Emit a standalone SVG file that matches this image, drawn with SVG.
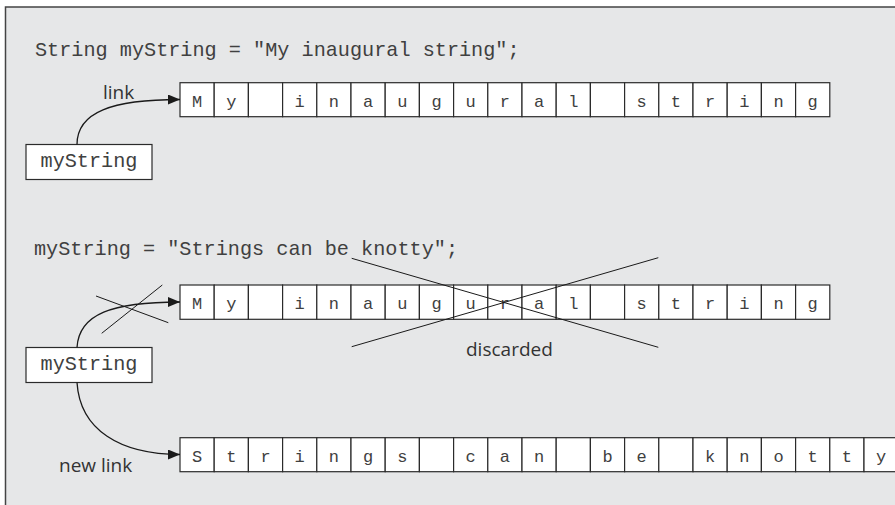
<svg xmlns="http://www.w3.org/2000/svg" width="895" height="505" viewBox="0 0 895 505">
<defs>
<style>
.code{font-family:"Liberation Mono","Courier New",monospace;font-size:20.2px;fill:#404040}
.cell{fill:#fff;stroke:#2b2b2b;stroke-width:1.2}
.ch{font-family:"Liberation Mono","Courier New",monospace;font-size:17px;fill:#404040;text-anchor:middle}
.lbl{font-family:"Open Sans","Liberation Sans",sans-serif;font-size:19px;fill:#333}
.box{fill:#fff;stroke:#2b2b2b;stroke-width:1.2}
.conn{fill:none;stroke:#1a1a1a;stroke-width:1.3}
.cross{fill:none;stroke:#1a1a1a;stroke-width:1}
</style>
<marker id="ah" markerWidth="12" markerHeight="10" refX="12" refY="5" orient="auto" markerUnits="userSpaceOnUse">
<path d="M0,0 L12,5 L0,10 Z" fill="#1a1a1a"/>
</marker>
</defs>
<rect x="0" y="0" width="895" height="505" fill="#fff"/>
<rect x="5.5" y="7" width="900" height="510" fill="#e6e7e8" stroke="#444" stroke-width="1.5"/>

<g id="code1"><text class="code" x="35" y="56">String myString = "My inaugural string";</text></g>
<g id="code2"><text class="code" x="34" y="255">myString = "Strings can be knotty";</text></g>

<g id="var1"><rect class="box" x="26" y="144.5" width="126" height="35"/><text class="code" x="89" y="167" text-anchor="middle">myString</text></g>
<g id="var2"><rect class="box" x="26" y="347.5" width="126" height="35"/><text class="code" x="89" y="370" text-anchor="middle">myString</text></g>

<g id="str1">
<rect class="cell" x="180" y="82.7" width="34.2" height="34"/><rect class="cell" x="214.2" y="82.7" width="34.2" height="34"/><rect class="cell" x="248.4" y="82.7" width="34.2" height="34"/><rect class="cell" x="282.6" y="82.7" width="34.2" height="34"/><rect class="cell" x="316.8" y="82.7" width="34.2" height="34"/><rect class="cell" x="351" y="82.7" width="34.2" height="34"/><rect class="cell" x="385.2" y="82.7" width="34.2" height="34"/><rect class="cell" x="419.4" y="82.7" width="34.2" height="34"/><rect class="cell" x="453.6" y="82.7" width="34.2" height="34"/><rect class="cell" x="487.8" y="82.7" width="34.2" height="34"/><rect class="cell" x="522" y="82.7" width="34.2" height="34"/><rect class="cell" x="556.2" y="82.7" width="34.2" height="34"/><rect class="cell" x="590.4" y="82.7" width="34.2" height="34"/><rect class="cell" x="624.6" y="82.7" width="34.2" height="34"/><rect class="cell" x="658.8" y="82.7" width="34.2" height="34"/><rect class="cell" x="693" y="82.7" width="34.2" height="34"/><rect class="cell" x="727.2" y="82.7" width="34.2" height="34"/><rect class="cell" x="761.4" y="82.7" width="34.2" height="34"/><rect class="cell" x="795.6" y="82.7" width="34.2" height="34"/>
<text class="ch" y="106.5"><tspan x="197.1">M</tspan><tspan x="231.3">y</tspan><tspan x="299.7">i</tspan><tspan x="333.9">n</tspan><tspan x="368.1">a</tspan><tspan x="402.3">u</tspan><tspan x="436.5">g</tspan><tspan x="470.7">u</tspan><tspan x="504.9">r</tspan><tspan x="539.1">a</tspan><tspan x="573.3">l</tspan><tspan x="641.7">s</tspan><tspan x="675.9">t</tspan><tspan x="710.1">r</tspan><tspan x="744.3">i</tspan><tspan x="778.5">n</tspan><tspan x="812.7">g</tspan></text>
</g>

<g id="str1b">
<rect class="cell" x="180" y="285" width="34.2" height="34.3"/><rect class="cell" x="214.2" y="285" width="34.2" height="34.3"/><rect class="cell" x="248.4" y="285" width="34.2" height="34.3"/><rect class="cell" x="282.6" y="285" width="34.2" height="34.3"/><rect class="cell" x="316.8" y="285" width="34.2" height="34.3"/><rect class="cell" x="351" y="285" width="34.2" height="34.3"/><rect class="cell" x="385.2" y="285" width="34.2" height="34.3"/><rect class="cell" x="419.4" y="285" width="34.2" height="34.3"/><rect class="cell" x="453.6" y="285" width="34.2" height="34.3"/><rect class="cell" x="487.8" y="285" width="34.2" height="34.3"/><rect class="cell" x="522" y="285" width="34.2" height="34.3"/><rect class="cell" x="556.2" y="285" width="34.2" height="34.3"/><rect class="cell" x="590.4" y="285" width="34.2" height="34.3"/><rect class="cell" x="624.6" y="285" width="34.2" height="34.3"/><rect class="cell" x="658.8" y="285" width="34.2" height="34.3"/><rect class="cell" x="693" y="285" width="34.2" height="34.3"/><rect class="cell" x="727.2" y="285" width="34.2" height="34.3"/><rect class="cell" x="761.4" y="285" width="34.2" height="34.3"/><rect class="cell" x="795.6" y="285" width="34.2" height="34.3"/>
<text class="ch" y="309"><tspan x="197.1">M</tspan><tspan x="231.3">y</tspan><tspan x="299.7">i</tspan><tspan x="333.9">n</tspan><tspan x="368.1">a</tspan><tspan x="402.3">u</tspan><tspan x="436.5">g</tspan><tspan x="470.7">u</tspan><tspan x="504.9">r</tspan><tspan x="539.1">a</tspan><tspan x="573.3">l</tspan><tspan x="641.7">s</tspan><tspan x="675.9">t</tspan><tspan x="710.1">r</tspan><tspan x="744.3">i</tspan><tspan x="778.5">n</tspan><tspan x="812.7">g</tspan></text>
</g>

<g id="str2">
<rect class="cell" x="180" y="437.7" width="34.2" height="34"/><rect class="cell" x="214.2" y="437.7" width="34.2" height="34"/><rect class="cell" x="248.4" y="437.7" width="34.2" height="34"/><rect class="cell" x="282.6" y="437.7" width="34.2" height="34"/><rect class="cell" x="316.8" y="437.7" width="34.2" height="34"/><rect class="cell" x="351" y="437.7" width="34.2" height="34"/><rect class="cell" x="385.2" y="437.7" width="34.2" height="34"/><rect class="cell" x="419.4" y="437.7" width="34.2" height="34"/><rect class="cell" x="453.6" y="437.7" width="34.2" height="34"/><rect class="cell" x="487.8" y="437.7" width="34.2" height="34"/><rect class="cell" x="522" y="437.7" width="34.2" height="34"/><rect class="cell" x="556.2" y="437.7" width="34.2" height="34"/><rect class="cell" x="590.4" y="437.7" width="34.2" height="34"/><rect class="cell" x="624.6" y="437.7" width="34.2" height="34"/><rect class="cell" x="658.8" y="437.7" width="34.2" height="34"/><rect class="cell" x="693" y="437.7" width="34.2" height="34"/><rect class="cell" x="727.2" y="437.7" width="34.2" height="34"/><rect class="cell" x="761.4" y="437.7" width="34.2" height="34"/><rect class="cell" x="795.6" y="437.7" width="34.2" height="34"/><rect class="cell" x="829.8" y="437.7" width="34.2" height="34"/><rect class="cell" x="864" y="437.7" width="34.2" height="34"/>
<text class="ch" y="461.5"><tspan x="197.1">S</tspan><tspan x="231.3">t</tspan><tspan x="265.5">r</tspan><tspan x="299.7">i</tspan><tspan x="333.9">n</tspan><tspan x="368.1">g</tspan><tspan x="402.3">s</tspan><tspan x="470.7">c</tspan><tspan x="504.9">a</tspan><tspan x="539.1">n</tspan><tspan x="607.5">b</tspan><tspan x="641.7">e</tspan><tspan x="710.1">k</tspan><tspan x="744.3">n</tspan><tspan x="778.5">o</tspan><tspan x="812.7">t</tspan><tspan x="846.9">t</tspan><tspan x="881.1">y</tspan></text>
</g>

<g id="labels">
<text class="lbl" x="103" y="99">link</text>
<text class="lbl" x="466" y="356">discarded</text>
<text class="lbl" x="59" y="471.5">new link</text>
</g>

<g id="connectors">
<path class="conn" d="M77,144.5 C77,112 112,99.5 180,99.5" marker-end="url(#ah)"/>
<path class="conn" d="M77,347.5 C79,314 112,302 180,302" marker-end="url(#ah)"/>
<path class="conn" d="M77,382.5 C80,430 120,454.5 180,454.5" marker-end="url(#ah)"/>
<line class="cross" x1="96" y1="296" x2="168.3" y2="322.7"/>
<line class="cross" x1="162.3" y1="285" x2="101.7" y2="333.3"/>
<line class="cross" x1="351.7" y1="258.3" x2="658.3" y2="347.3"/>
<line class="cross" x1="658.3" y1="257.7" x2="351.7" y2="346.7"/>
</g>
</svg>
